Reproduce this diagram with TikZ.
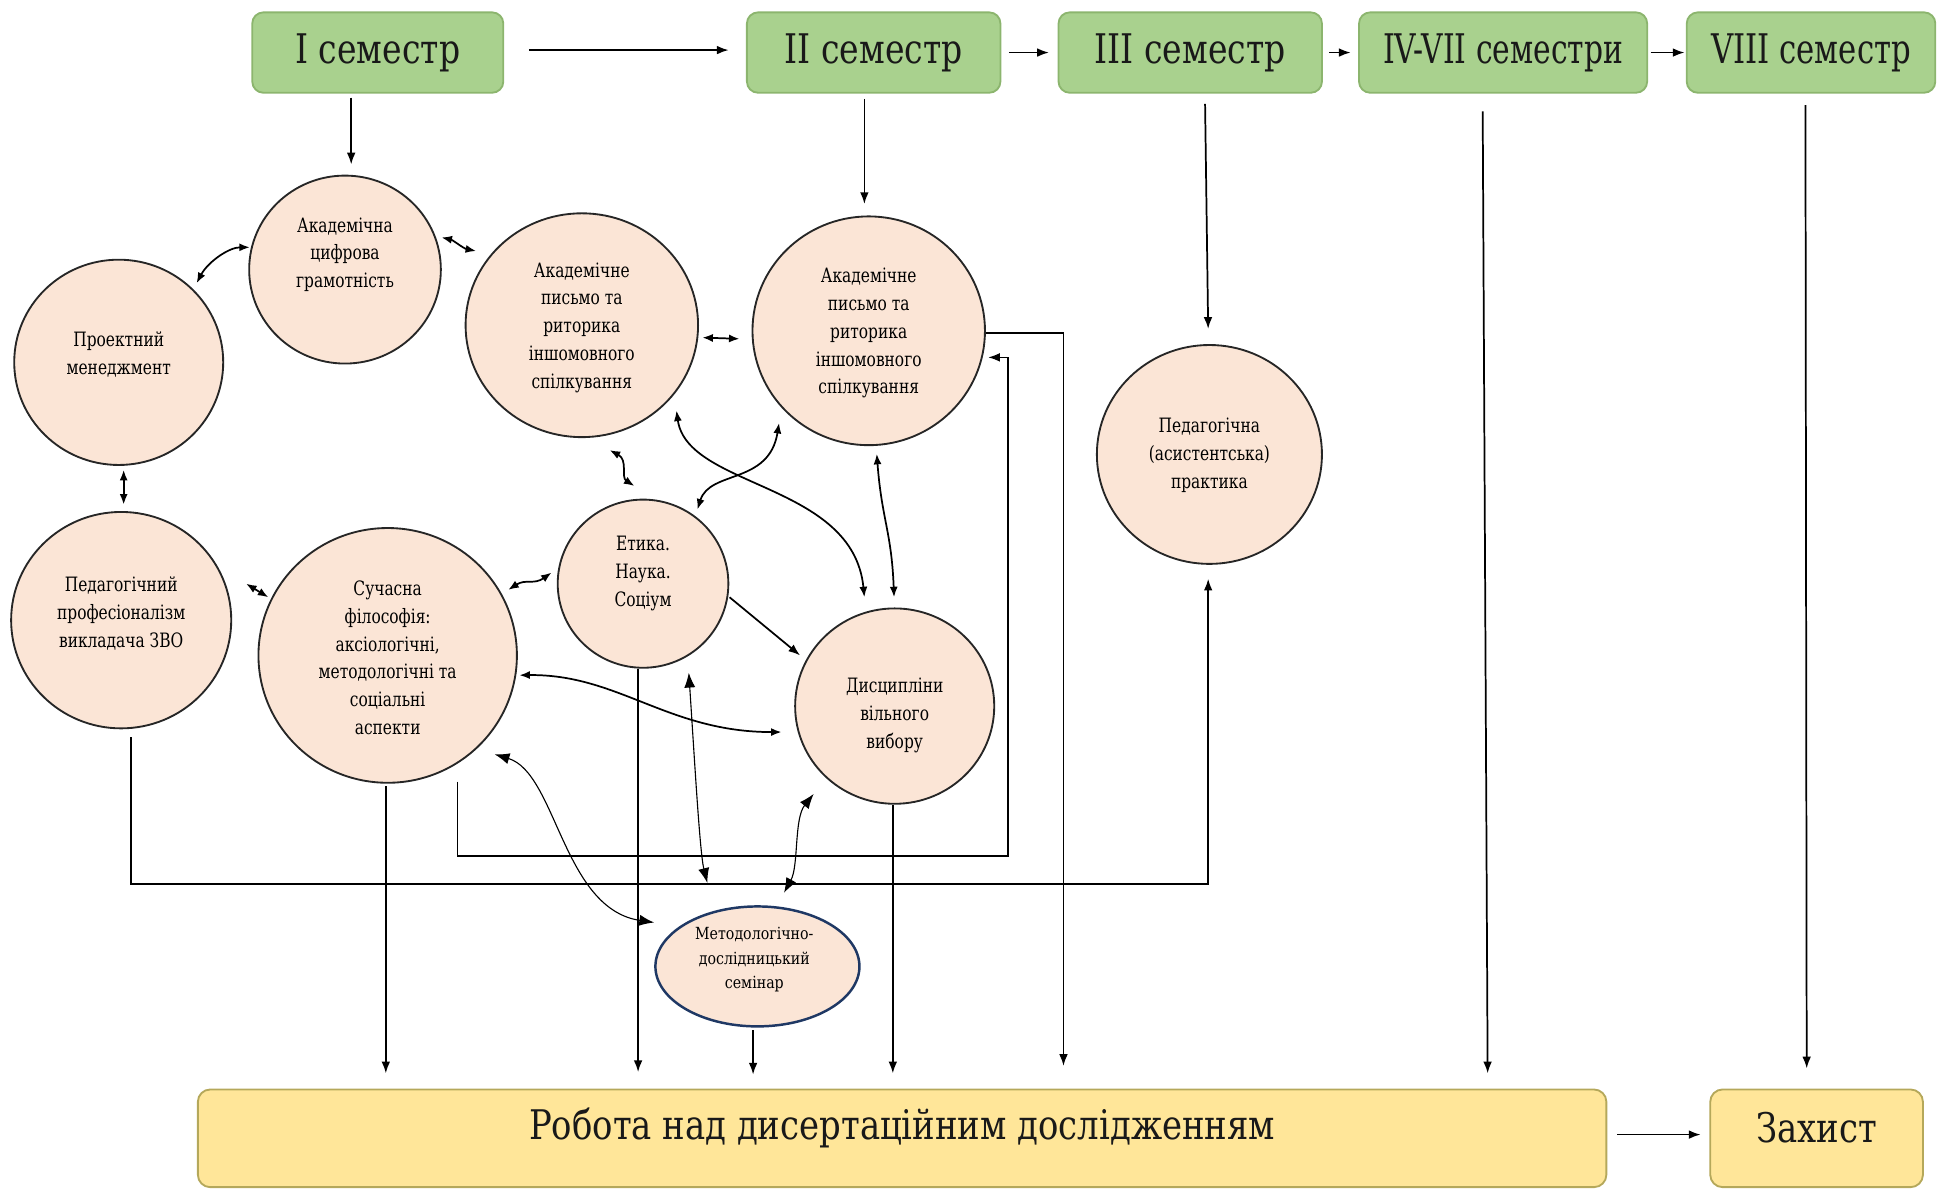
\documentclass[tikz,border=0pt]{standalone}
\usepackage{fontspec}
\usepackage{graphicx}
\setmainfont{DejaVu Serif}[FakeStretch=0.85]
\newfontfamily\semserif{DejaVu Serif}[FakeStretch=0.81]
\newfontfamily\botserif{DejaVu Serif}[FakeStretch=0.83]
\newfontfamily\condserif{DejaVu Serif}[FakeStretch=0.78]
\usetikzlibrary{shapes.geometric,arrows.meta,calc}

\definecolor{semfill}{HTML}{A9D18E}
\definecolor{semdraw}{HTML}{8CB56E}
\definecolor{circfill}{HTML}{FBE5D6}
\definecolor{yelfill}{HTML}{FFE699}
\definecolor{yeldraw}{HTML}{B5A85A}
\definecolor{navy}{HTML}{1F3864}

\begin{document}
\begin{tikzpicture}[x=1pt,y=-1pt,
  sem/.style={draw=semdraw, line width=1.5pt, fill=semfill, rounded corners=9pt,
    minimum height=65pt, inner sep=0pt, font=\semserif\fontsize{33}{38}\selectfont, text=black!90},
  circ/.style={ellipse, draw=black!85, line width=1.5pt, fill=circfill, inner sep=0pt},
  ctext/.style={align=center, font=\condserif\fontsize{16}{22.5}\selectfont, inner sep=0pt},
  stext/.style={align=center, font=\fontsize{13.5}{20}\selectfont, inner sep=0pt},
  ybox/.style={draw=yeldraw, line width=1.5pt, fill=yelfill, rounded corners=10pt,
    minimum height=79pt, inner sep=0pt},
  btext/.style={font=\botserif\fontsize{33}{38}\selectfont, inner sep=0pt, text=black!90},
  arr/.style={line width=1.4pt, -{Latex[length=9.5pt,width=7pt]}},
  darr/.style={line width=1.4pt, {Latex[length=8.5pt,width=6.5pt]}-{Latex[length=8.5pt,width=6.5pt]}},
  tharr/.style={line width=0.9pt, {Latex[length=12pt,width=9pt]}-{Latex[length=12pt,width=9pt]}},
]
\useasboundingbox (0,0) rectangle (1568,962.5);

% semester boxes
\node[sem, minimum width=203pt] (s1) at (305.5,42.5) {I семестр};
\node[sem, minimum width=205pt] (s2) at (706.5,42.5) {II семестр};
\node[sem, minimum width=213pt] (s3) at (962.5,42.5) {III семестр};
\node[sem, minimum width=233pt] (s4) at (1215.5,42.5) {\scalebox{0.9}[1]{IV-VII семестри}};
\node[sem, minimum width=201pt] (s5) at (1464.5,42.5) {\scalebox{0.93}[1]{VIII семестр}};

% bottom boxes
\node[ybox, minimum width=1139pt] (rob) at (729.5,920.5) {};
\node[btext] (trob) at (729.5,912) {Робота над дисертаційним дослідженням};
\node[ybox, minimum width=172pt] (zah) at (1469,920.5) {};
\node[btext] (tzah) at (1469,912) {Захист};

% circles
\node[circ, minimum width=155pt, minimum height=152pt] (c1) at (279,218) {};
\node[ctext] (t1) at (279,206) {Академічна\\цифрова\\грамотність};
\node[circ, minimum width=169pt, minimum height=166pt] (c2) at (96,293) {};
\node[ctext] (t2) at (96,286.5) {Проектний\\менеджмент};
\node[circ, minimum width=188pt, minimum height=181pt] (c3) at (470.5,263) {};
\node[ctext] (t3) at (470.5,265) {Академічне\\письмо та\\риторика\\іншомовного\\спілкування};
\node[circ, minimum width=188pt, minimum height=185pt] (c4) at (702.5,267.5) {};
\node[ctext] (t4) at (702.5,269.5) {Академічне\\письмо та\\риторика\\іншомовного\\спілкування};
\node[circ, minimum width=182pt, minimum height=177pt] (c5) at (978,367.5) {};
\node[ctext] (t5) at (978,368) {Педагогічна\\(асистентська)\\практика};
\node[circ, minimum width=178pt, minimum height=175pt] (c6) at (98,501.5) {};
\node[ctext] (t6) at (98,496) {Педагогічний\\професіоналізм\\викладача ЗВО};
\node[circ, minimum width=209pt, minimum height=206pt] (c7) at (313.5,530) {};
\node[ctext] (t7) at (313.5,532) {Сучасна\\філософія:\\аксіологічні,\\методологічні та\\соціальні\\аспекти};
\node[circ, minimum width=138pt, minimum height=136pt] (c8) at (520,472) {};
\node[ctext] (t8) at (520,463.5) {Етика.\\Наука.\\Соціум};
\node[circ, minimum width=161pt, minimum height=158pt] (c9) at (723.5,571) {};
\node[ctext] (t9) at (723.5,578.5) {Дисципліни\\вільного\\вибору};
\node[ellipse, draw=navy, line width=2pt, fill=circfill, inner sep=0pt,
  minimum width=165pt, minimum height=97pt] (c10) at (612.5,781.5) {};
\node[stext] (t10) at (610,776) {Методологічно-\\дослідницький\\семінар};

% arrows between semesters
\draw[arr, shorten <=20pt, shorten >=14pt] ([yshift=2pt]s1.east) -- ([yshift=2pt]s2.west);
\draw[arr, shorten <=6pt, shorten >=7pt] (s2.east) -- (s3.west);
\draw[arr, shorten <=5pt, shorten >=6pt] (s3.east) -- (s4.west);
\draw[arr, shorten <=2pt, shorten >=1pt] (s4.east) -- (s5.west);
\draw[arr, shorten <=8pt, shorten >=7pt] ([yshift=3pt]rob.east) -- ([yshift=3pt]zah.west);

% connector end points
\coordinate (a1) at (284,79);    \coordinate (a2) at (284,133);
\coordinate (b1) at (699,80);    \coordinate (b2) at (699,165);
\coordinate (d1) at (974.5,84);  \coordinate (d2) at (977,266);
\coordinate (e1) at (1199,90);   \coordinate (e2) at (1203,868);
\coordinate (f1) at (1460,85);   \coordinate (f2) at (1461,864);

\draw[arr] (a1) -- (a2);
\draw[arr] (b1) -- (b2);
\draw[arr] (d1) -- (d2);
\draw[arr] (e1) -- (e2);
\draw[arr] (f1) -- (f2);

% circle to circle
\coordinate (g1) at (159,229);   \coordinate (g2) at (202,200);
\draw[darr] (g1) .. controls (168,212) and (185,200) .. (g2);
\coordinate (h1) at (100,380);   \coordinate (h2) at (100,408);
\draw[darr] (h1) -- (h2);
\coordinate (i1) at (357,192);   \coordinate (i2) at (385,203);
\draw[darr] (i1) .. controls (366,194) and (375,201) .. (i2);
\coordinate (j1) at (568,273);   \coordinate (j2) at (598,274);
\draw[darr] (j1) -- (j2);
\coordinate (k1) at (493,364);   \coordinate (k2) at (513,393);
\draw[darr] (k1) .. controls (508,372) and (502,386) .. (k2);
\coordinate (l1) at (564,412);   \coordinate (l2) at (630,342);
\draw[darr] (l1) .. controls (574,380) and (622,392) .. (l2);
\coordinate (m1) at (547,332);   \coordinate (m2) at (699,483);
\draw[darr] (m1) .. controls (556,395) and (690,390) .. (m2);
\coordinate (n1) at (709,367);   \coordinate (n2) at (723,483);
\draw[darr] (n1) .. controls (713,420) and (721,430) .. (n2);
\coordinate (o1) at (411,477);   \coordinate (o2) at (446,463);
\draw[darr] (o1) .. controls (425,468) and (432,473) .. (o2);
\coordinate (p1) at (199,472);   \coordinate (p2) at (217,483);
\draw[darr] (p1) -- (p2);
\coordinate (q1) at (590,483);   \coordinate (q2) at (647,530);
\draw[arr] (q1) -- (q2);
\coordinate (r1) at (420,546);   \coordinate (r2) at (632,592);
\draw[darr] (r1) .. controls (500,545) and (540,592) .. (r2);

% seminar links
\coordinate (u1) at (400,610);   \coordinate (u2) at (529,746);
\draw[tharr] (u1) .. controls (450,625) and (455,735) .. (u2);
\coordinate (v1) at (557,544);   \coordinate (v2) at (572,714);
\draw[tharr] (v1) .. controls (562,620) and (566,690) .. (v2);
\coordinate (w1) at (658,642);   \coordinate (w2) at (634,722);
\draw[tharr] (w2) .. controls (646,700) and (642,662) .. (w1);
\coordinate (x1) at (609,833);   \coordinate (x2) at (609,869);
\draw[arr] (x1) -- (x2);

% vertical lines to dissertation work
\coordinate (y1) at (312,636);   \coordinate (y2) at (312,868);
\draw[arr] (y1) -- (y2);
\coordinate (y3) at (516,541);   \coordinate (y4) at (516,867);
\draw[arr] (y3) -- (y4);
\coordinate (y5) at (722,651);   \coordinate (y6) at (722,868);
\draw[arr] (y5) -- (y6);

% elbow connectors
\coordinate (z1) at (797,269);   \coordinate (z2) at (860,862);
\draw[arr] (z1) -| (z2);
\coordinate (aa1) at (370,632);  \coordinate (aa2) at (799,289);
\draw[arr] (aa1) -- (370,692) -- (815,692) -- (815,289) -- (aa2);
\coordinate (bb1) at (106,596);  \coordinate (bb2) at (977,468);
\draw[arr] (bb1) -- (106,715) -- (977,715) -- (bb2);

\end{tikzpicture}
\end{document}
